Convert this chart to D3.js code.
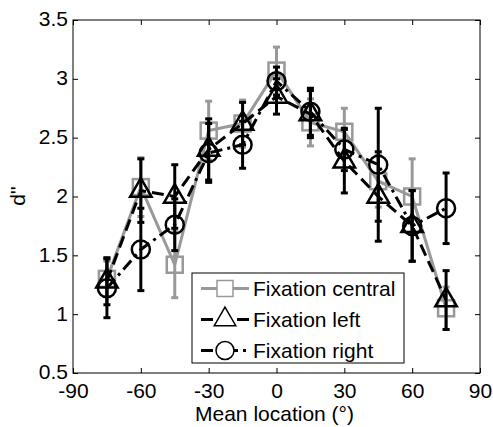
<!DOCTYPE html>
<html>
<head>
<meta charset="utf-8">
<script src="https://cdn.jsdelivr.net/npm/d3@7"></script>
<style>
  body { margin: 0; background: #fff; }
  text { font-family: "Liberation Sans", Arial, sans-serif; }
</style>
</head>
<body>
<svg id="chart" width="493" height="427"></svg>
<script>
var locations = [-75, -60, -45, -30, -15, 0, 15, 30, 45, 60, 75];
var central = [1.3, 2.08, 1.42, 2.56, 2.62, 3.07, 2.63, 2.55, 2.13, 2.0, 1.05];
var centralErr = [0.15, 0.25, 0.28, 0.25, 0.2, 0.2, 0.2, 0.2, 0.22, 0.32, 0.18];
var left = [1.28, 2.05, 2.0, 2.4, 2.62, 2.85, 2.7, 2.3, 2.0, 1.75, 1.12];
var leftErr = [0.2, 0.27, 0.27, 0.26, 0.18, 0.15, 0.2, 0.27, 0.38, 0.3, 0.25];
var right = [1.22, 1.55, 1.76, 2.37, 2.44, 2.98, 2.72, 2.4, 2.27, 1.75, 1.9];
var rightErr = [0.25, 0.35, 0.22, 0.25, 0.2, 0.12, 0.2, 0.18, 0.48, 0.3, 0.3];
var xTicks = [-90, -60, -30, 0, 30, 60, 90];
var yTicks = [0.5, 1, 1.5, 2, 2.5, 3, 3.5];
var seriesNames = ["Fixation central", "Fixation left", "Fixation right"];

var svg = d3.select("#chart");
var margin = {left: 73, top: 20, right: 13, bottom: 54};
var w = 493 - margin.left - margin.right;
var h = 427 - margin.top - margin.bottom;
var fs = 21;

var x = d3.scaleLinear().domain([-90, 90]).range([0, w]);
var y = d3.scaleLinear().domain([0.5, 3.5]).range([h, 0]);

var g = svg.append("g").attr("transform", "translate(" + margin.left + "," + margin.top + ")");

// axes, ticks pointing inward, box on all sides
function styleAxis(sel) {
  sel.select(".domain").remove();
  sel.selectAll("line").attr("stroke", "#000").attr("stroke-width", 1);
  sel.selectAll("text").attr("font-size", fs).attr("fill", "#000");
}
g.append("g").attr("transform", "translate(0," + h + ")")
  .call(d3.axisBottom(x).tickValues(xTicks).tickSizeInner(-5).tickSizeOuter(0).tickPadding(10)
    .tickFormat(function(d) { return String(d); }))
  .call(styleAxis);
g.append("g")
  .call(d3.axisLeft(y).tickValues(yTicks).tickSizeInner(-5).tickSizeOuter(0).tickPadding(5)
    .tickFormat(function(d) { return String(d); }))
  .call(styleAxis)
  .selectAll("text").attr("dy", "0.28em");
g.append("g")
  .call(d3.axisTop(x).tickValues(xTicks).tickSizeInner(-5).tickSizeOuter(0).tickFormat(""))
  .call(styleAxis);
g.append("g").attr("transform", "translate(" + w + ",0)")
  .call(d3.axisRight(y).tickValues(yTicks).tickSizeInner(-5).tickSizeOuter(0).tickFormat(""))
  .call(styleAxis);
g.append("rect").attr("width", w).attr("height", h)
  .attr("fill", "none").attr("stroke", "#000").attr("stroke-width", 1);

var series = [
  {vals: central, err: centralErr, color: "#999", dash: null, marker: "square"},
  {vals: left, err: leftErr, color: "#000", dash: "12,6", marker: "triangle"},
  {vals: right, err: rightErr, color: "#000", dash: "12,5,3,5", marker: "circle"}
];

var line = d3.line().x(function(d) { return x(d[0]); }).y(function(d) { return y(d[1]); });

function drawMarker(sel, type, color, fill) {
  if (type === "square") {
    sel.append("rect").attr("x", -8).attr("y", -8).attr("width", 16).attr("height", 16)
      .attr("fill", fill).attr("stroke", color).attr("stroke-width", 2.5);
  } else if (type === "triangle") {
    sel.append("path").attr("d", d3.symbol().type(d3.symbolTriangle).size(200)())
      .attr("fill", fill).attr("stroke", color).attr("stroke-width", 2.5);
  } else {
    sel.append("circle").attr("r", 9)
      .attr("fill", fill).attr("stroke", color).attr("stroke-width", 2.5);
  }
}

series.forEach(function(s) {
  var pts = locations.map(function(l, i) { return [l, s.vals[i], s.err[i]]; });
  var sg = g.append("g");
  sg.append("path").datum(pts).attr("d", line)
    .attr("fill", "none").attr("stroke", s.color).attr("stroke-width", 3)
    .attr("stroke-dasharray", s.dash);
  var eb = sg.selectAll(".eb").data(pts).enter().append("g");
  eb.append("line")
    .attr("x1", function(d) { return x(d[0]); }).attr("x2", function(d) { return x(d[0]); })
    .attr("y1", function(d) { return y(d[1] - d[2]); }).attr("y2", function(d) { return y(d[1] + d[2]); })
    .attr("stroke", s.color).attr("stroke-width", 3);
  [-1, 1].forEach(function(sign) {
    eb.append("line")
      .attr("x1", function(d) { return x(d[0]) - 3.5; }).attr("x2", function(d) { return x(d[0]) + 3.5; })
      .attr("y1", function(d) { return y(d[1] + sign * d[2]); }).attr("y2", function(d) { return y(d[1] + sign * d[2]); })
      .attr("stroke", s.color).attr("stroke-width", 3);
  });
  sg.selectAll(".mk").data(pts).enter().append("g")
    .attr("transform", function(d) { return "translate(" + x(d[0]) + "," + y(d[1]) + ")"; })
    .each(function() { drawMarker(d3.select(this), s.marker, s.color, "none"); });
});

// legend
var lg = svg.append("g").attr("transform", "translate(192,273)");
lg.append("rect").attr("width", 212).attr("height", 90)
  .attr("fill", "#fff").attr("stroke", "#000").attr("stroke-width", 1);
series.forEach(function(s, i) {
  var yy = 15.5 + i * 31;
  lg.append("line").attr("x1", 9).attr("x2", 57).attr("y1", yy).attr("y2", yy)
    .attr("stroke", s.color).attr("stroke-width", 3).attr("stroke-dasharray", s.dash);
  var m = lg.append("g").attr("transform", "translate(33," + yy + ")");
  drawMarker(m, s.marker, s.color, "#fff");
  m.select("*").attr("stroke-width", 1.5);
  lg.append("text").attr("x", 61).attr("y", yy + 7.5).attr("font-size", fs).text(seriesNames[i]);
});

// axis titles
svg.append("text").attr("x", margin.left + w / 2 - 2).attr("y", 421)
  .attr("text-anchor", "middle").attr("font-size", fs).text("Mean location (°)");
svg.append("text").attr("transform", "translate(25,196) rotate(-90)")
  .attr("text-anchor", "middle").attr("font-size", fs).text("d''");
</script>
</body>
</html>
